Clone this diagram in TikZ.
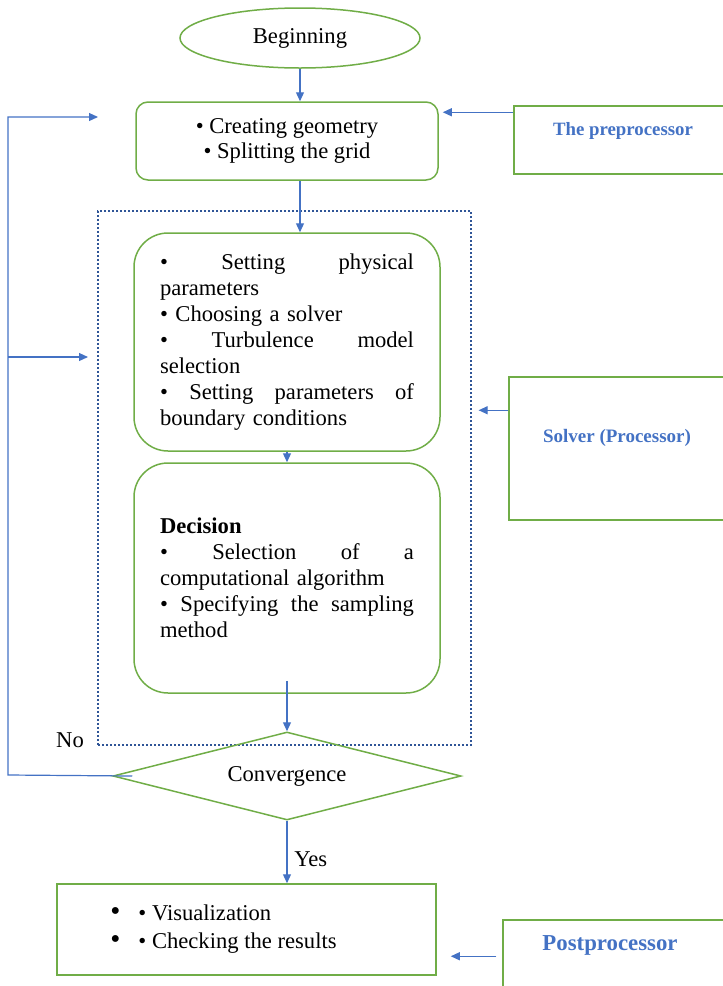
\documentclass[tikz,border=0pt]{standalone}
\usepackage{fontspec}
\setmainfont{Liberation Serif}
\usetikzlibrary{arrows.meta,positioning,shapes.geometric}
\definecolor{StepGreen}{HTML}{70AD47}
\definecolor{FlowBlue}{HTML}{4472C4}
\definecolor{FrameBlue}{HTML}{2F5597}
% justified line of a fixed width (gaps given by \hfill)
\newcommand{\jline}[1]{\makebox[127pt][l]{#1}}

\tikzset{
  stepbox/.style={draw=StepGreen,line width=0.75pt,rounded corners=6pt,inner sep=0pt},
  sidebox/.style={draw=StepGreen,line width=0.75pt,inner sep=0pt},
  sidetext/.style={text=FlowBlue,inner sep=0pt},
  flow/.style={draw=FlowBlue,line width=0.6pt},
  frame/.style={draw=FrameBlue,line width=0.6pt,dash pattern=on 1.2pt off 0.8pt,inner sep=0pt}
}

\begin{document}
\begin{tikzpicture}[x=0.5pt,y=-0.5pt,font={\fontsize{11.3}{13}\selectfont},>={Triangle[length=4.5pt,width=4pt]}]
  \clip (0,0) rectangle (723,986);
  % solver frame
  \node[frame,minimum width=186.5pt,minimum height=267pt] (solvfrm) at (284.5,478) {};
  % main column
  \node[ellipse,draw=StepGreen,line width=0.75pt,minimum width=120pt,minimum height=30pt,inner sep=0pt] (beg) at (300,38) {Beginning};
  \node[stepbox,minimum width=151pt,minimum height=39pt,align=center] (geom) at (287,141)
    {• Creating geometry\\[-0.5pt]• Splitting the grid};
  \node[stepbox,rounded corners=17pt,minimum width=153pt,minimum height=109pt,text width=127pt,align=left] (phys) at (287,342)
    {\jline{•\hfill Setting\hfill physical}\\parameters\\• Choosing a solver\\\jline{•\hfill Turbulence\hfill model}\\selection\\\jline{•\hfill Setting\hfill parameters\hfill of}\\boundary conditions};
  \node[stepbox,rounded corners=17pt,minimum width=153pt,minimum height=115pt,text width=127pt,align=left] (algo) at (287,578)
    {\textbf{Decision}\\\jline{•\hfill Selection\hfill of\hfill a}\\computational algorithm\\\jline{•\hfill Specifying\hfill the\hfill sampling}\\method};
  \node[diamond,draw=StepGreen,line width=0.75pt,aspect=4,minimum width=174pt,minimum height=44pt,inner sep=0pt] (conv) at (287,776) {Convergence};
  \node[sidebox,minimum width=189.5pt,minimum height=45.5pt] (post) at (246.5,929.5)
    {\begin{tabular}{@{}l@{\hspace{9pt}}l@{\hspace{23pt}}}{\Large•}&• Visualization\\[1pt]{\Large•}&• Checking the results\end{tabular}};
  % side boxes
  \node[sidebox,minimum width=108pt,minimum height=34pt] (pre) at (622,140) {};
  \node[sidetext,font={\fontsize{9.4}{11}\selectfont\bfseries}] (preT) at (623,131) {The preprocessor};
  \node[sidebox,minimum width=110.5pt,minimum height=71.5pt] (solv) at (619.5,448.5) {};
  \node[sidetext,font={\fontsize{9.5}{11}\selectfont\bfseries}] (solvT) at (617,438) {Solver (Processor)};
  \node[sidebox,minimum width=113.5pt,minimum height=40pt] (postp) at (616.5,960) {};
  \node[sidetext,font={\fontsize{11.4}{13}\selectfont\bfseries}] (postpT) at (610,945) {Postprocessor};
  \node (no) at (70,740) {No};
  % flow arrows
  \draw[flow,->] (beg.south) -- (beg.south |- geom.north);
  \draw[flow,->] (beg.south |- geom.south) -- (beg.south |- phys.north);
  \draw[flow,->] (phys.south) -- (algo.north);
  \draw[flow,->] ([yshift=6.5pt]algo.south) -- (conv.north);
  \draw[flow,->] (conv.south) -- node[right,pos=0.62,text=black]{Yes} (conv.south |- post.north);
  % inputs from the side boxes
  \coordinate (preA) at ([yshift=-3.5pt]pre.north west);
  \draw[flow,->,shorten >=2pt] (preA) -- (preA -| geom.east);
  \coordinate (solvA) at ([yshift=-17pt]solv.north west);
  \draw[flow,->,shorten >=3.5pt] (solvA) -- (solvA -| solvfrm.east);
  \coordinate (postpA) at ([yshift=-18.5pt]postp.north west);
  \draw[flow,->,shorten <=3pt,shorten >=7pt] (postpA) -- (postpA -| post.east);
  % loop back when not converged
  \coordinate (loopB) at (8,775);
  \coordinate (ret1) at (98,117);
  \coordinate (ret2) at (88,357);
  \draw[flow,->] ([xshift=10pt]conv.west) -- (loopB) |- (ret1);
  \draw[flow,->] (loopB |- ret2) -- (ret2);
\end{tikzpicture}
\end{document}
